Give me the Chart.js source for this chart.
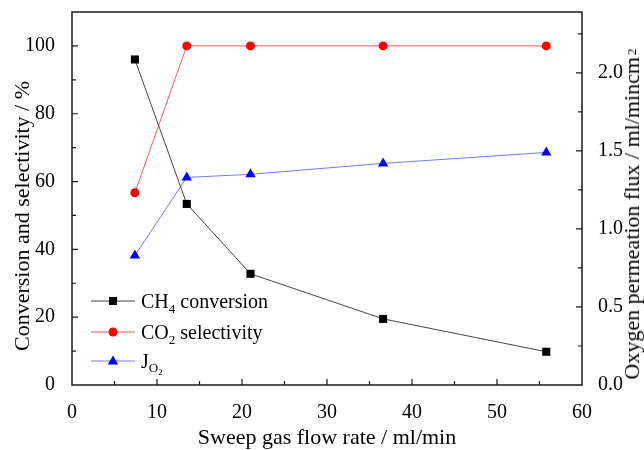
<!DOCTYPE html>
<html>
<head>
<meta charset="utf-8">
<script src="https://cdn.jsdelivr.net/npm/chart.js@4/dist/chart.umd.min.js"></script>
<style>
  html, body { margin: 0; padding: 0; background: #fff; }
  #wrap { position: relative; width: 644px; height: 450px; font-family: 'Liberation Serif', 'Times New Roman', serif; color: #000; }
  #chart { position: absolute; left: 0; top: 0; }
  .title { position: absolute; white-space: nowrap; font-size: 22px; line-height: 24px; }
  .rot { transform: translate(-50%, -50%) rotate(-90deg); }
  .legend-row { position: absolute; left: 91px; height: 24px; display: flex; align-items: center; font-size: 20px; white-space: nowrap; }
  .legend-row svg { margin-right: 6px; }
  sub { font-size: 65%; vertical-align: -0.35em; line-height: 0; }
  sup { font-size: 60%; vertical-align: 0.25em; line-height: 0; margin-left: 2px; }
</style>
</head>
<body>
<div id="wrap">
  <canvas id="chart" width="644" height="450"></canvas>
  <div class="title rot" style="left:22px; top:216px;">Conversion and selectivity / %</div>
  <div class="title rot" style="left:632px; top:214px;">Oxygen permeation flux / ml/mincm<sup>2</sup></div>
  <div class="title" style="left:327px; top:437px; transform: translate(-50%, -50%);">Sweep gas flow rate / ml/min</div>
  <div id="legend"></div>
</div>
<script>
// data
const flowRate = [7.4, 13.5, 21, 36.6, 55.8];
const ch4Conversion = [96, 53.4, 32.8, 19.5, 9.8];
const co2Selectivity = [56.7, 100, 100, 100, 100];
const oxygenFlux = [0.83, 1.33, 1.35, 1.42, 1.49];

const FONT = 'Liberation Serif';
const pts = ys => flowRate.map((x, i) => ({ x, y: ys[i] }));

// legend (html, so sub/superscripts work)
const legendItems = [
    { label: 'CH<sub>4</sub> conversion', line: '#444', color: '#000', shape: 'rect', y: 301 },
    { label: 'CO<sub>2</sub> selectivity', line: '#f55', color: '#f00', shape: 'circle', y: 332 },
    { label: 'J<sub>O<sub>2</sub></sub>', line: '#77f', color: '#00f', shape: 'tri', y: 361 }
];
const marker = (s, c) => s === 'rect' ? `<rect x="18" y="2" width="8" height="8" fill="${c}"/>`
    : s === 'circle' ? `<circle cx="22" cy="6" r="4.5" fill="${c}"/>`
    : `<polygon points="22,0.5 27.2,9.5 16.8,9.5" fill="${c}"/>`;
const legendEl = document.getElementById('legend');
legendEl.innerHTML = legendItems.map(it =>
    `<div class="legend-row" style="top:${it.y - 12}px"><svg width="44" height="12"><line x1="0" y1="6" x2="44" y2="6" stroke="${it.line}" stroke-width="1"/>${marker(it.shape, it.color)}</svg><span>${it.label}</span></div>`
).join('');

// frame + inward ticks like the original plot
const framePlugin = {
    id: 'frame',
    afterDraw(chart) {
        const { ctx, chartArea: a, scales } = chart;
        ctx.save();
        ctx.strokeStyle = '#1a1a1a'; ctx.lineWidth = 1.5;
        ctx.strokeRect(a.left, a.top, a.right - a.left, a.bottom - a.top);
        ctx.lineWidth = 1.2;
        ctx.beginPath();
        scales.x.ticks.forEach(t => {
            const p = scales.x.getPixelForValue(t.value);
            if (p <= a.left + 1 || p >= a.right - 1) return;
            const len = t.value % 10 === 0 ? 6 : 4;
            ctx.moveTo(p, a.bottom); ctx.lineTo(p, a.bottom - len);
        });
        scales.y.ticks.forEach(t => {
            const p = scales.y.getPixelForValue(t.value);
            if (p <= a.top + 1 || p >= a.bottom - 1) return;
            const len = t.value % 20 === 0 ? 6 : 4;
            ctx.moveTo(a.left, p); ctx.lineTo(a.left + len, p);
        });
        scales.y1.ticks.forEach(t => {
            const p = scales.y1.getPixelForValue(t.value);
            if (p <= a.top + 1 || p >= a.bottom - 1) return;
            const len = Math.abs(t.value * 2 - Math.round(t.value * 2)) < 1e-6 ? 6 : 4;
            ctx.moveTo(a.right, p); ctx.lineTo(a.right - len, p);
        });
        ctx.stroke();
        ctx.restore();
    }
};

const tickFont = { family: FONT, size: 20 };
const fixY = w => s => { s.width = w; s.paddingTop = 0; s.paddingBottom = 0; };

new Chart(document.getElementById('chart').getContext('2d'), {
    type: 'line',
    data: {
        datasets: [
            { label: 'CH4 conversion', data: pts(ch4Conversion), yAxisID: 'y', borderColor: '#444', borderWidth: 1, pointStyle: 'rect', pointRadius: 5.7, pointBackgroundColor: '#000', pointBorderWidth: 0 },
            { label: 'CO2 selectivity', data: pts(co2Selectivity), yAxisID: 'y', borderColor: '#f55', borderWidth: 1, pointStyle: 'circle', pointRadius: 4.5, pointBackgroundColor: '#f00', pointBorderWidth: 0 },
            { label: 'JO2', data: pts(oxygenFlux), yAxisID: 'y1', borderColor: '#77f', borderWidth: 1, pointStyle: 'triangle', pointRadius: 6, pointBackgroundColor: '#00f', pointBorderWidth: 0 }
        ]
    },
    options: {
        responsive: false, animation: false,
        layout: { padding: { top: 12, left: 0, right: 0, bottom: 0 } },
        plugins: { legend: { display: false }, tooltip: { enabled: false } },
        scales: {
            x: { type: 'linear', min: 0, max: 60, grid: { display: false }, border: { display: false },
                 ticks: { stepSize: 5, autoSkip: false, maxRotation: 0, padding: 8, color: '#000', font: tickFont, callback: v => v % 10 === 0 ? v : '' },
                 afterFit: s => { s.height = 65; s.paddingLeft = 0; s.paddingRight = 0; } },
            y: { position: 'left', min: 0, max: 110, grid: { display: false }, border: { display: false },
                 ticks: { stepSize: 10, autoSkip: false, padding: 9, color: '#000', font: tickFont, callback: v => v % 20 === 0 ? v : '' },
                 afterFit: fixY(72) },
            y1: { position: 'right', min: 0, max: 2.39, grid: { display: false }, border: { display: false },
                  ticks: { stepSize: 0.25, includeBounds: false, autoSkip: false, padding: 8, color: '#000', font: tickFont,
                           callback: v => Math.abs(v * 2 - Math.round(v * 2)) < 1e-6 ? v.toFixed(1) : '' },
                  afterFit: fixY(62) }
        }
    },
    plugins: [framePlugin]
});
</script>
</body>
</html>
